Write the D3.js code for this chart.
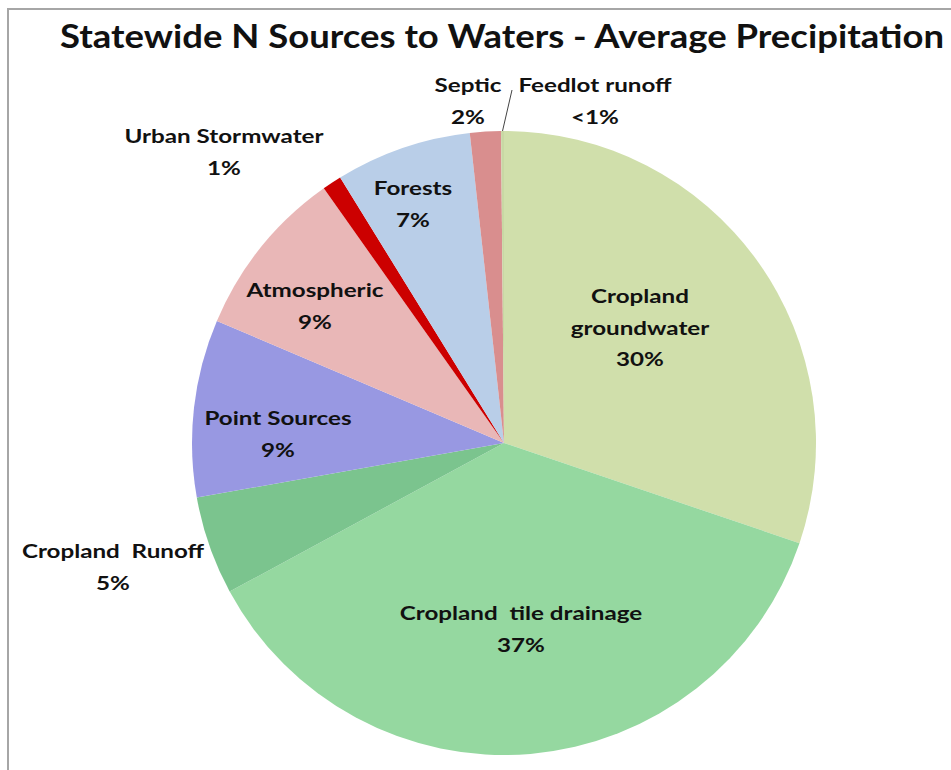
<!DOCTYPE html>
<html><head><meta charset="utf-8">
<script src="https://cdn.jsdelivr.net/npm/d3@7"></script>
<style>
html,body{margin:0;padding:0;background:#fff;}
text{font-family:Lato,"Open Sans",sans-serif;font-weight:bold;fill:#111;}
</style></head>
<body><svg id="c" width="951" height="770"></svg>
<script>
const categories = ["Cropland groundwater","Cropland tile drainage","Cropland Runoff","Point Sources","Atmospheric","Urban Stormwater","Forests","Septic","Feedlot runoff"];
const values = [30.2, 36.9, 5.1, 9.2, 8.8, 1.0, 7.05, 1.6, 0.15];
const pctLabels = ["30%","37%","5%","9%","9%","1%","7%","2%","<1%"];
const nameLines = [["Cropland","groundwater"],["Cropland  tile drainage"],["Cropland  Runoff"],["Point Sources"],["Atmospheric"],["Urban Stormwater"],["Forests"],["Septic"],["Feedlot runoff"]];
const colors = ["#d0dfab","#95d8a0","#7bc48e","#9898e2","#e9b7b7","#cc0000","#b9cee8","#d98e8e","#c8d8a4"];
const title = "Statewide N Sources to Waters - Average Precipitation";

const svg = d3.select("#c");
svg.append("path").attr("d","M8,770 L8,9 L951,9").attr("fill","none").attr("stroke","#a6a6a6").attr("stroke-width",2);

svg.append("text").attr("x",502).attr("y",48).attr("text-anchor","middle")
  .attr("font-size",32).attr("textLength",884).attr("lengthAdjust","spacingAndGlyphs").text(title);

const cx=504, cy=443, R=312;
const g = svg.append("g").attr("transform",`translate(${cx},${cy})`);
const pie = d3.pie().sort(null).value(d=>d).startAngle(0).endAngle(2*Math.PI);
const arcs = pie(values);
const arc = d3.arc().innerRadius(0).outerRadius(R);
g.selectAll("path.s").data(arcs).enter().append("path").attr("class","s")
  .attr("d",arc).attr("fill",(d,i)=>colors[i]);

const labelX = [640,521,113,278,315,224,413,468,595];
const labelY = [303,620,558,425,297,143,195,92,92];
const lh = 31.5, stretch = 1.24;
const lab = svg.append("g");
categories.forEach((c,i)=>{
  const lines = nameLines[i].concat([pctLabels[i]]);
  lines.forEach((l,j)=>{
    const t = lab.append("text").attr("text-anchor","middle").attr("font-size",19.5)
      .attr("xml:space","preserve").attr("x",labelX[i]).attr("y",labelY[i]+j*lh).text(l);
    const w = t.node().getComputedTextLength();
    t.attr("textLength",w*stretch).attr("lengthAdjust","spacingAndGlyphs");
  });
});
const fa = arcs[8];
const fAng=(fa.startAngle+fa.endAngle)/2;
svg.append("line").attr("x1",512).attr("y1",90)
  .attr("x2",cx+Math.sin(fAng)*R).attr("y2",cy-Math.cos(fAng)*R)
  .attr("stroke","#444").attr("stroke-width",1);
</script></body></html>
